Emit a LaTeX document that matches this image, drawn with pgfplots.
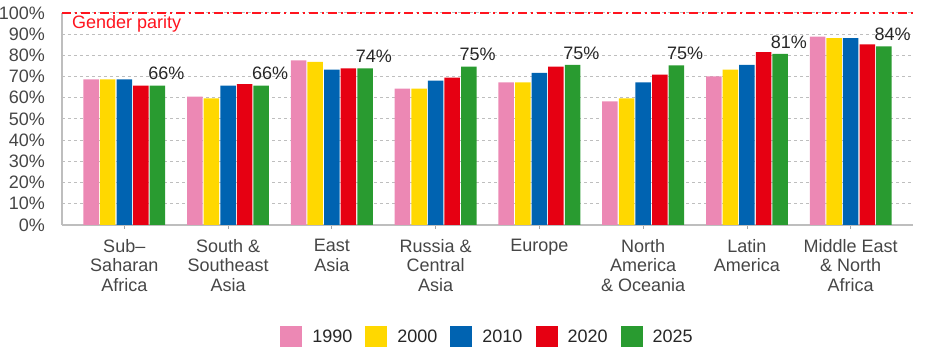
\documentclass[border=0pt]{standalone}
\usepackage{pgfplots}
\pgfplotsset{compat=1.18}
\usepackage{fontspec}
\setmainfont{Liberation Sans}
\definecolor{c1990}{RGB}{236,136,180}
\definecolor{c2000}{RGB}{255,216,0}
\definecolor{c2010}{RGB}{0,99,177}
\definecolor{c2020}{RGB}{230,0,18}
\definecolor{c2025}{RGB}{41,155,48}
\definecolor{txtgray}{RGB}{70,70,70}
\definecolor{lbl}{RGB}{38,38,38}
\definecolor{gridc}{RGB}{190,190,190}
\definecolor{parity}{RGB}{255,20,30}
\begin{document}
\begin{tikzpicture}
\path[use as bounding box] (0,0) rectangle (938pt,355pt);
\begin{axis}[
  at={(62pt,130pt)}, anchor=south west,
  scale only axis, width=851pt, height=212pt,
  xmin=-0.6, xmax=7.6, ymin=0, ymax=100,
  clip=false,
  axis x line*=bottom, axis y line*=left,
  x axis line style={draw=gridc, line width=1.8pt, -},
  y axis line style={draw=gridc, line width=1.2pt, -},
  tick align=outside,
  major tick length=4pt,
  xtick={0,1,2,3,4,5,6,7},
  xticklabels={{Sub–\\Saharan\\Africa},{South \&\\Southeast\\Asia},{East\\Asia},{Russia \&\\Central\\Asia},{Europe},{North\\America\\\& Oceania},{Latin\\America},{Middle East\\\& North\\Africa}},
  xticklabel style={align=center, font=\fontsize{18}{19.5}\selectfont, text=txtgray, inner sep=0pt, yshift=-10pt},
  xtick style={draw=gray!70, line width=0.8pt},
  ytick={0,10,20,30,40,50,60,70,80,90,100},
  yticklabels={0\%,10\%,20\%,30\%,40\%,50\%,60\%,70\%,80\%,90\%,100\%},
  yticklabel style={font=\fontsize{18}{20}\selectfont, text=txtgray, inner sep=0pt, xshift=-13pt},
  ytick style={draw=none},
  ymajorgrids,
  grid style={draw=gridc, line width=1pt, dash pattern=on 3pt off 3pt},
  legend columns=5,
  legend style={at={(0.5,-0.528)}, anchor=center, draw=none, fill=none,
    font=\fontsize{18}{20}\selectfont, text=lbl,
    /tikz/every odd column/.append style={column sep=8pt},
    /tikz/every even column/.append style={column sep=11pt}},
  legend image code/.code={\fill[#1] (0pt,-10.5pt) rectangle (22pt,10.5pt);},
]
\addplot[ybar, bar width=15.5pt, bar shift=-33.2pt, fill=c1990, draw=none] coordinates {(0,68.7) (1,60.5) (2,77.7) (3,64.3) (4,67.3) (5,58.3) (6,70.1) (7,88.8)};
\addlegendentry{1990}
\addplot[ybar, bar width=15.5pt, bar shift=-16.6pt, fill=c2000, draw=none] coordinates {(0,68.7) (1,59.7) (2,76.9) (3,64.3) (4,67.3) (5,59.7) (6,73.3) (7,88.1)};
\addlegendentry{2000}
\addplot[ybar, bar width=15.5pt, bar shift=0pt, fill=c2010, draw=none] coordinates {(0,68.7) (1,65.7) (2,73.3) (3,68.1) (4,71.8) (5,67.3) (6,75.5) (7,88.1)};
\addlegendentry{2010}
\addplot[ybar, bar width=15.5pt, bar shift=16.6pt, fill=c2020, draw=none] coordinates {(0,65.7) (1,66.5) (2,73.9) (3,69.5) (4,74.7) (5,70.9) (6,81.5) (7,85.2)};
\addlegendentry{2020}
\addplot[ybar, bar width=15.5pt, bar shift=33.2pt, fill=c2025, draw=none,
  point meta=explicit symbolic,
  nodes near coords={\pgfplotspointmeta\%},
  every node near coord/.append style={font=\fontsize{18}{20}\selectfont, text=lbl, inner sep=0pt, anchor=south, yshift=5.5pt, xshift=42pt}]
  table[meta=lab] {
x y lab
0 65.7 66
1 65.7 66
2 73.9 74
3 74.7 75
4 75.5 75
5 75.3 75
6 80.7 81
7 84.3 84
};
\addlegendentry{2025}
\addplot[parity, line width=1.3pt, dash pattern=on 9pt off 4pt on 2pt off 4pt, forget plot] coordinates {(-0.6,100) (7.6,100)};
\node[anchor=base west, inner sep=0pt, text=parity, font=\fontsize{18}{20}\selectfont, xshift=10pt] at (axis cs:-0.6,92.5) {Gender parity};
\end{axis}
\end{tikzpicture}
\end{document}
